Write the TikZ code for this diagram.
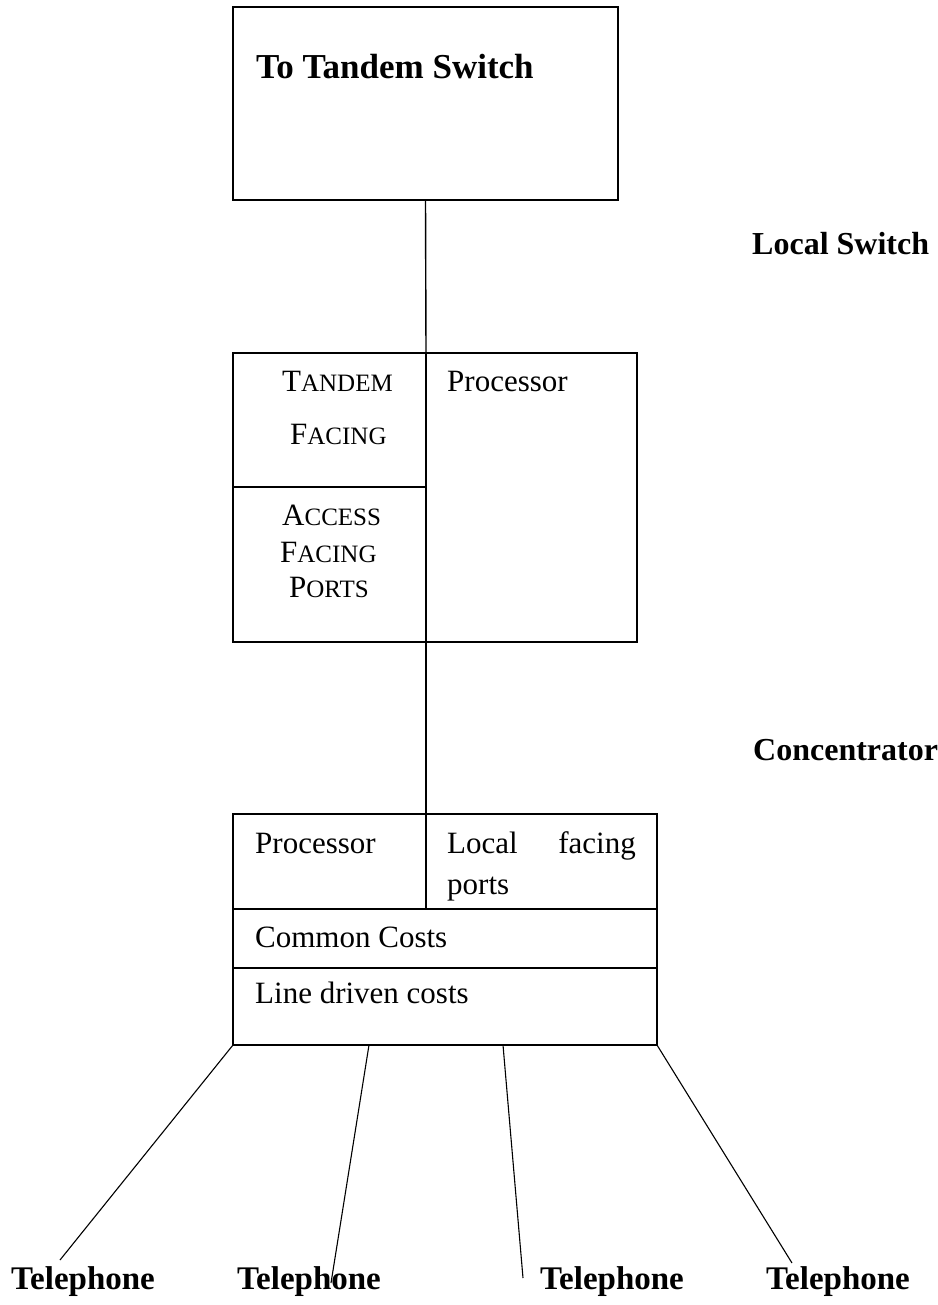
\documentclass[tikz,border=0pt]{standalone}
\usepackage{fontspec}
\setmainfont{Liberation Serif}
\newcommand{\regtext}{\fontsize{31}{37}\selectfont}
\newcommand{\boldtext}{\fontsize{32}{38}\selectfont\bfseries}
\newcommand{\smcap}[2]{{\fontsize{31}{37}\selectfont #1}{\fontsize{25}{30}\selectfont #2}}
\begin{document}
\begin{tikzpicture}[x=1pt,y=-1pt,
  cell/.style={draw,line width=1.6pt,rectangle,inner sep=0pt,outer sep=0pt,anchor=north west},
  lbl/.style={inner sep=0pt,anchor=base west,font=\regtext},
  blbl/.style={inner sep=0pt,anchor=base west,font=\boldtext},
  link/.style={line width=1.4pt},
  wire/.style={line width=1.1pt}]
\useasboundingbox (0,0) rectangle (937,1305);

% tandem switch
\node[cell,minimum width=385pt,minimum height=193pt] (tandem) at (233,7) {};
\node[blbl,font=\fontsize{35}{40}\selectfont\bfseries] (tandemtxt) at (256,79) {To Tandem Switch};

% local switch cells
\node[cell,minimum width=193pt,minimum height=134pt] (lsTF) at (233,353) {};
\node[cell,minimum width=193pt,minimum height=155pt] (lsAF) at (233,487) {};
\node[cell,minimum width=211pt,minimum height=289pt] (lsProc) at (426,353) {};
\node[lbl] (tf1) at (282,391) {\smcap{T}{ANDEM}};
\node[lbl] (tf2) at (290,444) {\smcap{F}{ACING}};
\node[lbl] (af1) at (282,525) {\smcap{A}{CCESS}};
\node[lbl] (af2) at (280,562) {\smcap{F}{ACING}};
\node[lbl] (af3) at (289,597) {\smcap{P}{ORTS}};
\node[lbl] (lsproctxt) at (447,391) {Processor};
\node[blbl] (lslabel) at (752,255) {Local Switch};

% concentrator cells
\node[cell,minimum width=193pt,minimum height=95pt] (cProc) at (233,814) {};
\node[cell,minimum width=231pt,minimum height=95pt] (cLocal) at (426,814) {};
\node[cell,minimum width=424pt,minimum height=59pt] (cCommon) at (233,909) {};
\node[cell,minimum width=424pt,minimum height=77pt] (cLine) at (233,968) {};
\node[lbl] (cproctxt) at (255,853) {Processor};
\node[lbl] (clocal1) at (447,853) {Local};
\node[lbl,anchor=base east] (clocal2) at (636,853) {facing};
\node[lbl] (clocal3) at (447,894) {ports};
\node[lbl] (ccommontxt) at (255,947) {Common Costs};
\node[lbl] (clinetxt) at (255,1003) {Line driven costs};
\node[blbl] (clabel) at (753,760) {Concentrator};

% trunk links
\draw[link] (tandem.south) -- (lsProc.north west);
\draw[link] (lsProc.south west) -- (cLocal.north west);

% subscriber lines
\coordinate (p2) at (369,1045);
\coordinate (p3) at (503,1045);
\coordinate (e1) at (60,1260);
\coordinate (e2) at (331,1283);
\coordinate (e3) at (523,1278);
\coordinate (e4) at (792,1263);
\draw[wire] (cLine.south west) -- (e1);
\draw[wire] (p2) -- (e2);
\draw[wire] (p3) -- (e3);
\draw[wire] (cLine.south east) -- (e4);

% telephones
\node[blbl,font=\fontsize{33}{38}\selectfont\bfseries] (tel1) at (11,1289) {Telephone};
\node[blbl,font=\fontsize{33}{38}\selectfont\bfseries] (tel2) at (237,1289) {Telephone};
\node[blbl,font=\fontsize{33}{38}\selectfont\bfseries] (tel3) at (540,1289) {Telephone};
\node[blbl,font=\fontsize{33}{38}\selectfont\bfseries] (tel4) at (766,1289) {Telephone};
\end{tikzpicture}
\end{document}
